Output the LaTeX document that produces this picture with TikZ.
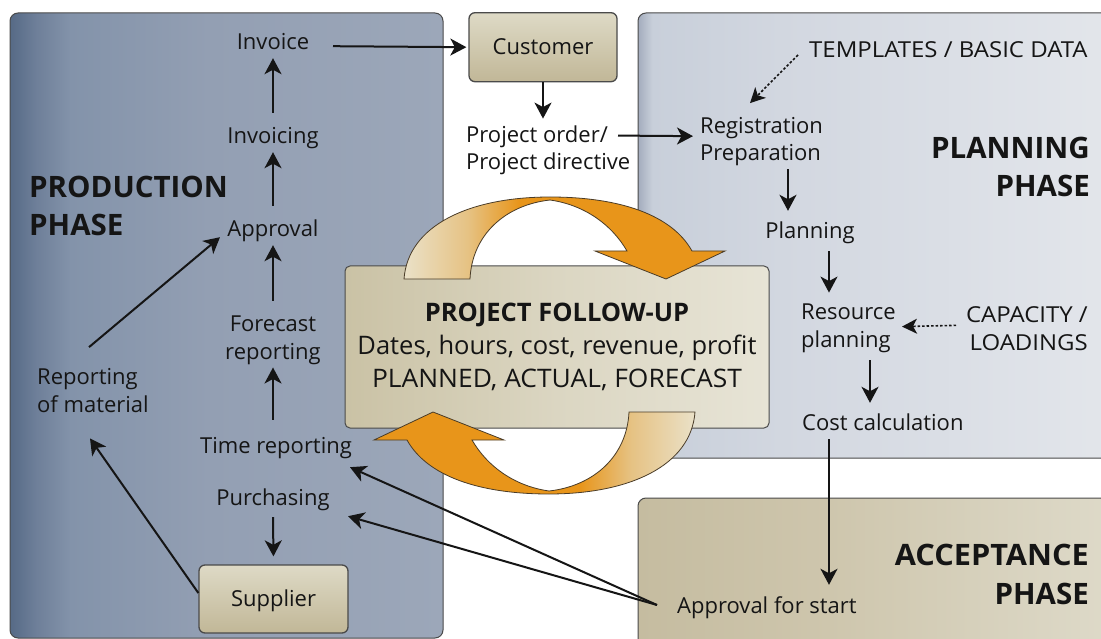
\documentclass[tikz,border=0pt]{standalone}
\usepackage{fontspec}
\setmainfont{Open Sans}
\newfontfamily\capsfont[FakeStretch=1.09]{Open Sans}
\usetikzlibrary{arrows.meta,calc}
\definecolor{prodA}{HTML}{566A86}
\definecolor{prodB}{HTML}{6E7F99}
\definecolor{prodC}{HTML}{8393AA}
\definecolor{prodD}{HTML}{939FB3}
\definecolor{prodE}{HTML}{9CA7B9}
\definecolor{planA}{HTML}{A3ACBD}
\definecolor{planB}{HTML}{C8CFDA}
\definecolor{planC}{HTML}{D2D7E0}
\definecolor{planD}{HTML}{E3E6EB}
\definecolor{accA}{HTML}{C5BCA0}
\definecolor{accB}{HTML}{CEC6AD}
\definecolor{accC}{HTML}{DEDAC9}
\definecolor{fuA}{HTML}{CAC2A5}
\definecolor{fuB}{HTML}{DBD6C2}
\definecolor{fuC}{HTML}{E7E4D6}
\definecolor{boxTop}{HTML}{DEDAC6}
\definecolor{boxBot}{HTML}{C1B797}
\definecolor{arrL}{HTML}{EAE1C8}
\definecolor{arrM}{HTML}{E6C283}
\definecolor{arrO}{HTML}{E8951A}
\definecolor{edge}{HTML}{4A4A4A}
\definecolor{arredge}{HTML}{4A3C28}
\definecolor{ink}{HTML}{151515}
\pgfdeclarehorizontalshading{prodsh}{100bp}{color(0bp)=(prodA); color(25bp)=(prodA); color(28bp)=(prodB); color(32bp)=(prodC); color(48bp)=(prodD); color(75bp)=(prodE); color(100bp)=(prodE)}
\pgfdeclarehorizontalshading{plansh}{100bp}{color(0bp)=(planA); color(25bp)=(planA); color(26.5bp)=(planB); color(40bp)=(planC); color(75bp)=(planD); color(100bp)=(planD)}
\pgfdeclarehorizontalshading{accsh}{100bp}{color(0bp)=(accA); color(25bp)=(accA); color(45bp)=(accB); color(75bp)=(accC); color(100bp)=(accC)}
\pgfdeclarehorizontalshading{fush}{100bp}{color(0bp)=(fuA); color(25bp)=(fuA); color(50bp)=(fuB); color(75bp)=(fuC); color(100bp)=(fuC)}
\pgfdeclarehorizontalshading{arrsh}{100bp}{color(0bp)=(arrL); color(25bp)=(arrL); color(35bp)=(arrM); color(43bp)=(arrO); color(100bp)=(arrO)}
\tikzset{
  lbl/.style={font=\fontsize{22}{27.5}\selectfont, text=ink, inner xsep=2pt, inner ysep=3pt, text height=16pt, text depth=5pt},
  mlbl/.style={font=\fontsize{22}{27.5}\selectfont, text=ink, inner xsep=2pt, inner ysep=3pt},
  phase/.style={font=\fontsize{29.5}{38.5}\selectfont\bfseries, text=ink, inner sep=0pt},
  boxnode/.style={draw=edge, line width=1.3pt, rounded corners=6pt, top color=boxTop, bottom color=boxBot,
     font=\fontsize{22}{27.5}\selectfont, text=ink, text height=15.5pt, text depth=0pt, inner sep=0pt},
  fubox/.style={draw=edge, line width=1pt, rounded corners=5pt, shade, shading=fush,
     font=\fontsize{25.5}{33}\selectfont, text=ink, align=center, inner sep=0pt},
  panel/.style={draw=edge, line width=1pt, rounded corners=8pt},
  bigarrow/.style={draw=arredge, line width=0.8pt, shading=arrsh},
  arr/.style={draw=ink, line width=2pt, -{Stealth[length=16pt,width=17pt,inset=4.5pt]}},
  dotarr/.style={draw=ink, line width=1.6pt, dash pattern=on 2.5pt off 2pt, -{Stealth[length=15pt,width=15pt,inset=4pt]}}
}
\begin{document}
\begin{tikzpicture}[x=1pt,y=-1pt]
\useasboundingbox (0,0) rectangle (1101,639);
\clip (0,0) rectangle (1101,639);
\fill[white] (0,0) rectangle (1101,639);
% phase panels
\shade[panel, shading=prodsh] (10,13) rectangle (443,638);
\shade[panel, shading=plansh] (638,13) rectangle (1115,458);
\shade[panel, shading=accsh] (638,498) rectangle (1115,655);
% project follow-up
\node[fubox, minimum width=424pt, minimum height=162pt] (fu) at (557,347)
  {\textbf{PROJECT FOLLOW-UP}\\Dates, hours, cost, revenue, profit\\{\addfontfeatures{FakeStretch=1.035}PLANNED, ACTUAL, FORECAST}};
% circular arrows
\shade[bigarrow] (404,279) .. controls (408,225) and (470,197) .. (550,197)
  .. controls (620,197) and (672,215) .. (692,251) -- (725,251) -- (666,279) -- (595,251) -- (627,251)
  .. controls (612,225) and (585,205) .. (550,200) .. controls (505,205) and (472,235) .. (470,279) -- cycle;
\shade[bigarrow, shading angle=180] (695,412) .. controls (691,466) and (629,494) .. (549,494)
  .. controls (479,494) and (427,476) .. (407,440) -- (374,440) -- (433,412) -- (504,440) -- (472,440)
  .. controls (487,466) and (514,486) .. (549,491) .. controls (594,486) and (627,456) .. (629,412) -- cycle;
% boxes
\node[boxnode, minimum width=148pt, minimum height=69pt] (customer) at (543,47.2) {Customer};
\node[boxnode, minimum width=149pt, minimum height=68pt] (supplier) at (273.5,599) {Supplier};
% headings (base = last line)
\node[phase, align=left, anchor=base west] (prodh) at (29,236) {PRODUCTION\\PHASE};
\node[phase, align=right, anchor=base east] (planh) at (1090,197) {PLANNING\\PHASE};
\node[phase, align=right, anchor=base east] (acch) at (1089,604) {{\addfontfeatures{FakeStretch=1.04}ACCEPTANCE}\\PHASE};
% production labels
\node[lbl, anchor=base] (invoice) at (273,50) {Invoice};
\node[lbl, anchor=base] (invoicing) at (273,144) {Invoicing};
\node[lbl, anchor=base] (approval) at (273,237) {Approval};
\node[mlbl, align=center, anchor=base] (forecast) at (273,359) {Forecast\\reporting};
\node[lbl, anchor=base] (timerep) at (276,453) {Time reporting};
\node[lbl, anchor=base] (purch) at (273,505) {Purchasing};
\node[mlbl, align=left, anchor=base west] (repmat) at (35,412) {Reporting\\of material};
% middle / planning labels
\node[mlbl, align=left, anchor=base west] (po) at (464,170) {Project order/\\Project directive};
\node[mlbl, align=left, anchor=base west] (reg) at (698,161) {Registration\\Preparation};
\node[lbl, anchor=base west] (templates) at (807,58) {\capsfont TEMPLATES / BASIC DATA};
\node[lbl, anchor=base] (planning) at (810,239) {Planning};
\node[mlbl, align=left, anchor=base west] (resource) at (799,347) {Resource\\planning};
\node[mlbl, align=right, anchor=base east, font=\fontsize{22}{27.5}\capsfont] (capacity) at (1090,350) {CAPACITY /\\LOADINGS};
\node[lbl, anchor=base west] (costcalc) at (800,430) {Cost calculation};
\node[lbl, anchor=base west] (approvalstart) at (675,613) {Approval for start};
% production connectors
\draw[arr, shorten <=12pt] (invoicing.north) -- (invoice.south);
\draw[arr, shorten <=12pt] (approval.north) -- (invoicing.south);
\draw[arr, shorten <=12pt] (forecast.north) -- (approval.south);
\draw[arr, shorten <=14pt] (timerep.north -| forecast.south) -- (forecast.south);
\draw[arr, shorten <=4pt, shorten >=8pt] (purch.south) -- (supplier.north);
\draw[arr] ($(repmat.north west)+(54,-18)$) -- ($(approval.south)+(-53,-8)$);
\draw[arr] ($(supplier.west)+(0,-6)$) -- ($(repmat.south west)+(55,23)$);
\draw[arr] ($(approvalstart.west)+(-18,-2.5)$) -- ($(timerep.south)+(74,6)$);
\draw[arr] ($(approvalstart.west)+(-18,-2.5)$) -- ($(purch.south)+(75,3)$);
\draw[arr, shorten >=2pt] ($(invoice.south)+(60,-12)$) -- (customer.west);
% planning connectors
\draw[arr, shorten >=4pt] (customer.south) -- (customer.south |- po.north);
\draw[arr] ($(po.north west)+(154,13)$) -- ($(reg.north west)+(-5,22)$);
\draw[dotarr] ($(templates.west)+(-9,2.5)$) -- ($(reg.north west)+(52,-11)$);
\draw[arr] ($(reg.south west)+(90,0)$) -- ($(planning.north)+(-22,-9)$);
\draw[arr] ($(planning.south)+(19,4)$) -- ($(resource.north west)+(30,-8)$);
\draw[dotarr] ($(capacity.north east)+(-134,22)$) -- ($(resource.north west)+(103,26)$);
\draw[arr] ($(resource.south west)+(71,5)$) -- ($(costcalc.north west)+(70,-8)$);
\draw[arr] ($(costcalc.south west)+(29,1)$) -- ($(approvalstart.north west)+(154,-9)$);
\end{tikzpicture}
\end{document}
